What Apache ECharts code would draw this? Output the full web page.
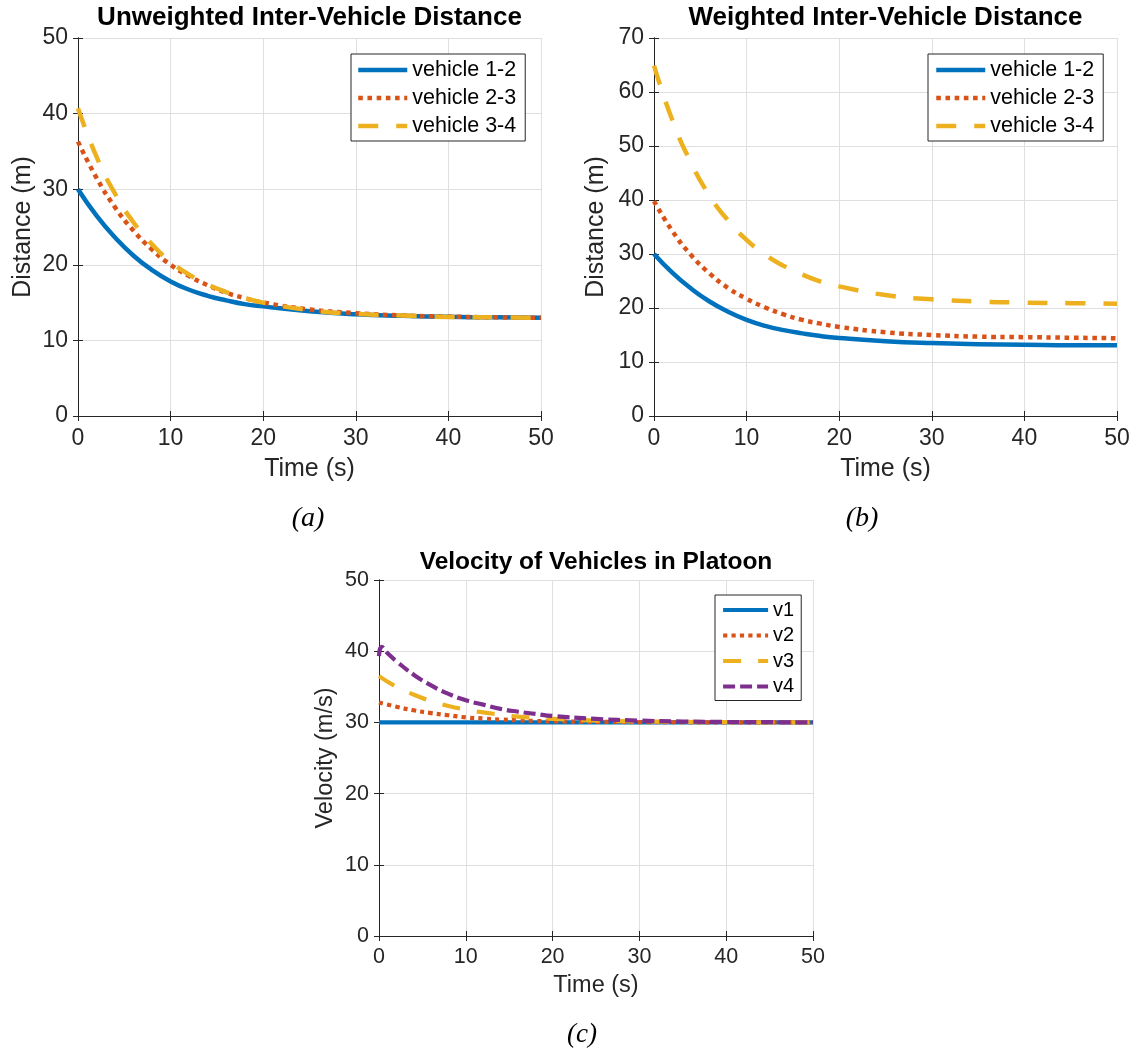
<!DOCTYPE html>
<html>
<head>
<meta charset="utf-8">
<script src="https://cdn.jsdelivr.net/npm/echarts@6/dist/echarts.min.js"></script>
<style>
html,body{margin:0;padding:0;background:#fff;}
#c{width:1133px;height:1052px;}
</style>
</head>
<body>
<div id="c"></div>
<script>
// ---------- DATA ----------
const timeS = [0, 2, 4, 6, 8, 10, 12, 14, 16, 18, 20, 25, 30, 35, 40, 45, 50];
const xTicks = [0, 10, 20, 30, 40, 50];

// (a) Unweighted inter-vehicle distance (m)
const unweighted12 = [30, 26.5, 23.6, 21.2, 19.3, 17.8, 16.7, 15.9, 15.3, 14.8, 14.5, 13.85, 13.45, 13.25, 13.12, 13.05, 13.0];
const unweighted23 = [36.3, 31.5, 27.6, 24.5, 22.0, 20.0, 18.5, 17.3, 16.3, 15.6, 15.0, 14.1, 13.6, 13.3, 13.15, 13.05, 13.0];
const unweighted34 = [40.7, 34.3, 29.4, 25.6, 22.7, 20.4, 18.7, 17.4, 16.4, 15.6, 15.0, 14.0, 13.5, 13.3, 13.1, 13.05, 13.0];

// (b) Weighted inter-vehicle distance (m)
const weighted12 = [30, 26.5, 23.6, 21.2, 19.3, 17.8, 16.7, 15.9, 15.3, 14.8, 14.45, 13.85, 13.5, 13.3, 13.2, 13.1, 13.1];
const weighted23 = [39.8, 34.2, 29.8, 26.4, 23.7, 21.7, 20.1, 18.8, 17.8, 17.1, 16.5, 15.5, 15.0, 14.7, 14.6, 14.5, 14.4];
const weighted34 = [64.9, 54.7, 46.9, 40.8, 36.2, 32.6, 29.9, 27.8, 26.2, 24.9, 24.0, 22.4, 21.6, 21.2, 21.0, 20.9, 20.8];

// (c) Velocity (m/s)
const velV1 = [30, 30, 30, 30, 30, 30, 30, 30, 30, 30, 30, 30, 30, 30, 30, 30, 30];
const velV2 = [32.8, 32.2, 31.7, 31.3, 31.0, 30.7, 30.55, 30.4, 30.3, 30.2, 30.15, 30.08, 30.04, 30.02, 30.01, 30.0, 30.0];
const velV3 = [36.5, 35.0, 33.9, 33.0, 32.3, 31.8, 31.4, 31.1, 30.8, 30.65, 30.5, 30.25, 30.14, 30.07, 30.03, 30.01, 30.0];
const timeV4 = [0, 0.3, 1, 2, 4, 6, 8, 10, 12, 14, 16, 18, 20, 25, 30, 35, 40, 45, 50];
const velV4 = [39.3, 40.6, 39.7, 38.6, 36.7, 35.2, 34.0, 33.1, 32.5, 31.9, 31.5, 31.2, 30.9, 30.5, 30.25, 30.12, 30.06, 30.03, 30.0];

const namesDist = ['vehicle 1-2', 'vehicle 2-3', 'vehicle 3-4'];
const namesVel = ['v1', 'v2', 'v3', 'v4'];
const titles = ['Unweighted Inter-Vehicle Distance', 'Weighted Inter-Vehicle Distance', 'Velocity of Vehicles in Platoon'];
const panelLabels = ['(a)', '(b)', '(c)'];

// ---------- STYLE ----------
const SANS = 'Liberation Sans, Arial, Helvetica, sans-serif';
const SERIF = 'Liberation Serif, Times New Roman, serif';
const AX = '#262626';
const GRIDC = '#dfdfdf';
const BLUE = '#0072BD', ORANGE = '#D95319', YELLOW = '#EDB120', PURPLE = '#7E2F8E';

const grids = [
  {left: 78, top: 38, width: 463, height: 378, outerBoundsMode: 'none'},
  {left: 654, top: 38, width: 463, height: 378, outerBoundsMode: 'none'},
  {left: 379, top: 580, width: 434, height: 356, outerBoundsMode: 'none'}
];

const panelCfg = [
  {ymax: 50, tickFs: 23, nameFs: 25, xLabelMargin: 11, xNameGap: 41, yNameGap: 42, yName: 'Distance (m)'},
  {ymax: 70, tickFs: 23, nameFs: 25, xLabelMargin: 11, xNameGap: 41, yNameGap: 45, yName: 'Distance (m)'},
  {ymax: 50, tickFs: 21.5, nameFs: 23.5, xLabelMargin: 10, xNameGap: 38, yNameGap: 41, yName: 'Velocity (m/s)'}
];

const xAxes = [], yAxes = [];
panelCfg.forEach((p, gi) => {
  const common = {
    type: 'value', gridIndex: gi, min: 0, max: 50, interval: 10,
    axisLine: {show: true, lineStyle: {color: AX, width: 1}},
    axisTick: {show: true, inside: true, length: 5, lineStyle: {color: AX, width: 1}}
  };
  xAxes.push(Object.assign({}, common, {
    position: 'bottom',
    axisLabel: {fontSize: p.tickFs, color: AX, fontFamily: SANS, margin: p.xLabelMargin},
    splitLine: {show: true, lineStyle: {color: GRIDC, width: 1}},
    name: 'Time (s)', nameLocation: 'middle', nameGap: p.xNameGap,
    nameTextStyle: {fontSize: p.nameFs, color: AX, fontFamily: SANS}
  }));
  xAxes.push(Object.assign({}, common, {
    position: 'top', axisLabel: {show: false}, splitLine: {show: false}
  }));
  const ycommon = {
    type: 'value', gridIndex: gi, min: 0, max: p.ymax, interval: 10,
    axisLine: {show: true, lineStyle: {color: AX, width: 1}},
    axisTick: {show: true, inside: true, length: 5, lineStyle: {color: AX, width: 1}}
  };
  yAxes.push(Object.assign({}, ycommon, {
    position: 'left',
    axisLabel: {fontSize: p.tickFs, color: AX, fontFamily: SANS, margin: 10},
    splitLine: {show: true, lineStyle: {color: GRIDC, width: 1}},
    name: p.yName, nameLocation: 'middle', nameGap: p.yNameGap,
    nameTextStyle: {fontSize: p.nameFs, color: AX, fontFamily: SANS}
  }));
  yAxes.push(Object.assign({}, ycommon, {
    position: 'right', axisLabel: {show: false}, splitLine: {show: false}
  }));
});

function mkLine(name, gi, xs, ys, color, dash, width) {
  return {
    type: 'line', name: name, xAxisIndex: 2 * gi, yAxisIndex: 2 * gi,
    data: xs.map((t, i) => [t, ys[i]]),
    symbol: 'none', showSymbol: false, smooth: 0.5,
    lineStyle: {color: color, width: width, type: dash, cap: 'butt', join: 'round'},
    itemStyle: {color: color},
    emphasis: {disabled: true}, animation: false, silent: true
  };
}

const DOT = [4.6, 4.6], DASH = [20, 18];
const series = [
  mkLine(namesDist[0], 0, timeS, unweighted12, BLUE, 'solid', 4.5),
  mkLine(namesDist[1], 0, timeS, unweighted23, ORANGE, DOT, 4.5),
  mkLine(namesDist[2], 0, timeS, unweighted34, YELLOW, DASH, 4.5),
  mkLine(namesDist[0], 1, timeS, weighted12, BLUE, 'solid', 4.5),
  mkLine(namesDist[1], 1, timeS, weighted23, ORANGE, DOT, 4.5),
  mkLine(namesDist[2], 1, timeS, weighted34, YELLOW, DASH, 4.5),
  mkLine(namesVel[0], 2, timeS, velV1, BLUE, 'solid', 4.2),
  mkLine(namesVel[1], 2, timeS, velV2, ORANGE, [4.2, 4.2], 4.2),
  mkLine(namesVel[2], 2, timeS, velV3, YELLOW, [18, 17], 4.2),
  mkLine(namesVel[3], 2, timeV4, velV4, PURPLE, [12, 5], 4.2)
];

const titleBase = {padding: 0, textAlign: 'center', textStyle: {fontSize: 26, fontWeight: 'bold', color: '#000', fontFamily: SANS}};
const subBase = {padding: 0, textAlign: 'center', textStyle: {fontSize: 28, fontWeight: 'normal', fontStyle: 'italic', color: '#000', fontFamily: SERIF}};
const title = [
  Object.assign({}, titleBase, {text: titles[0], left: 309.5, top: 5}),
  Object.assign({}, titleBase, {text: titles[1], left: 885.5, top: 5}),
  Object.assign({}, titleBase, {text: titles[2], left: 596, top: 550, textStyle: Object.assign({}, titleBase.textStyle, {fontSize: 24.5})}),
  Object.assign({}, subBase, {text: panelLabels[0], left: 308, top: 505}),
  Object.assign({}, subBase, {text: panelLabels[1], left: 862, top: 505}),
  Object.assign({}, subBase, {text: panelLabels[2], left: 582, top: 1021, textStyle: Object.assign({}, subBase.textStyle, {fontSize: 27})})
];

const legBase = {
  orient: 'vertical', borderColor: AX, borderWidth: 1, backgroundColor: '#fff',
  itemStyle: {opacity: 0}, selectedMode: false, align: 'left'
};
const legend = [
  Object.assign({}, legBase, {data: namesDist, left: 351, top: 54, itemWidth: 49, itemHeight: 21, itemGap: 6,
    padding: [5, 9, 4, 5], lineStyle: {width: 4.5},
    textStyle: {fontSize: 21.5, color: '#000', fontFamily: SANS}}),
  Object.assign({}, legBase, {data: namesDist, left: 928, top: 54, itemWidth: 49, itemHeight: 21, itemGap: 6,
    padding: [5, 9, 4, 6], lineStyle: {width: 4.5},
    textStyle: {fontSize: 21.5, color: '#000', fontFamily: SANS}}),
  Object.assign({}, legBase, {data: namesVel, left: 715, top: 595, itemWidth: 45, itemHeight: 19.5, itemGap: 5.5,
    padding: [5, 7, 4, 6], lineStyle: {width: 4.2},
    textStyle: {fontSize: 20, color: '#000', fontFamily: SANS}})
];

const chart = echarts.init(document.getElementById('c'), null, {renderer: 'canvas'});
chart.setOption({
  backgroundColor: '#fff',
  animation: false,
  title: title,
  legend: legend,
  grid: grids,
  xAxis: xAxes,
  yAxis: yAxes,
  series: series
});
</script>
</body>
</html>
